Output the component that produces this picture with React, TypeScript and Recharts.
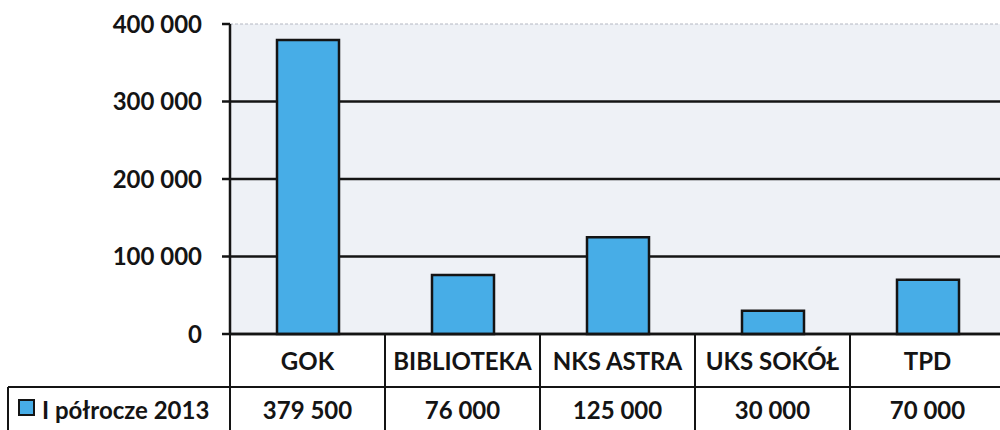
import { BarChart, Bar, XAxis, YAxis, CartesianGrid } from 'recharts'

const categories = ['GOK', 'BIBLIOTEKA', 'NKS ASTRA', 'UKS SOKÓŁ', 'TPD']
const values = [379500, 76000, 125000, 30000, 70000]
const yTicks = [0, 100000, 200000, 300000, 400000]
const seriesName = 'I półrocze 2013'

const data = categories.map((name, i) => ({ name, value: values[i] }))

// layout
const CHART_W = 1005
const CHART_H = 440
const Y_AXIS_W = 230
const TOP = 24
const PLOT_H = 310
const ROW1_H = 53
const ROW2_H = 56
const BAND = (CHART_W - Y_AXIS_W) / categories.length
const ROW1_TOP = TOP + PLOT_H
const ROW2_TOP = ROW1_TOP + ROW1_H
const ROW2_BOTTOM = ROW2_TOP + ROW2_H

const FONT = 'Lato, "Open Sans", sans-serif'
const FONT_SIZE = 24
const INK = '#141414'
const BLUE = '#47ade7'

const fmt = (v: number) => String(v).replace(/\B(?=(\d{3})+(?!\d))/g, ' ')

function CategoryTick(props: any) {
  const { x } = props
  return (
    <g>
      <line x1={x - BAND / 2} x2={x - BAND / 2} y1={ROW1_TOP} y2={ROW2_TOP} stroke={INK} strokeWidth={2} />
      <line x1={x + BAND / 2} x2={x + BAND / 2} y1={ROW1_TOP} y2={ROW2_TOP} stroke={INK} strokeWidth={2} />
      <line x1={x - BAND / 2} x2={x + BAND / 2} y1={ROW2_TOP} y2={ROW2_TOP} stroke={INK} strokeWidth={2} />
      <text
        x={x}
        y={ROW1_TOP + 26}
        textAnchor="middle"
        dominantBaseline="central"
        fill={INK}
        fontSize={FONT_SIZE}
        fontWeight={700}
        fontFamily={FONT}
      >
        {props.payload.value}
      </text>
    </g>
  )
}

function ValueTick(props: any) {
  const { x } = props
  const index = props.index ?? props.payload.index
  return (
    <g>
      <line x1={x - BAND / 2} x2={x - BAND / 2} y1={ROW2_TOP} y2={ROW2_BOTTOM} stroke={INK} strokeWidth={2} />
      <line x1={x + BAND / 2} x2={x + BAND / 2} y1={ROW2_TOP} y2={ROW2_BOTTOM} stroke={INK} strokeWidth={2} />
      {index === 0 && (
        <g>
          <line x1={8} x2={x - BAND / 2} y1={ROW2_TOP} y2={ROW2_TOP} stroke={INK} strokeWidth={2} />
          <line x1={8} x2={8} y1={ROW2_TOP} y2={ROW2_BOTTOM} stroke={INK} strokeWidth={2} />
          <rect x={19} y={400} width={15} height={15} fill={BLUE} stroke={INK} strokeWidth={2} />
          <text
            x={42}
            y={ROW2_TOP + 22}
            dominantBaseline="central"
            fill={INK}
            fontSize={FONT_SIZE}
            fontWeight={700}
            fontFamily={FONT}
          >
            {seriesName}
          </text>
        </g>
      )}
      <text
        x={x}
        y={ROW2_TOP + 22}
        textAnchor="middle"
        dominantBaseline="central"
        fill={INK}
        fontSize={FONT_SIZE}
        fontWeight={700}
        fontFamily={FONT}
      >
        {fmt(values[index])}
      </text>
    </g>
  )
}

// solid black grid lines, except the top border of the plot area which is a faint dashed line
function GridLine(props: any) {
  const { x1, x2, y1, y2 } = props
  const isTop = y1 <= TOP + 1
  return (
    <line
      x1={x1}
      x2={x2}
      y1={y1}
      y2={y2}
      stroke={isTop ? '#b4b8c2' : INK}
      strokeWidth={isTop ? 1 : 2.5}
      strokeDasharray={isTop ? '3 2' : undefined}
    />
  )
}

export default function App() {
  return (
    <div
      style={{
        position: 'fixed',
        left: 0,
        top: 0,
        width: 1000,
        height: 430,
        overflow: 'hidden',
        background: '#ffffff',
      }}
    >
      <BarChart
        width={CHART_W}
        height={CHART_H}
        data={data}
        margin={{ top: TOP, right: 0, bottom: CHART_H - ROW2_BOTTOM, left: 0 }}
        barCategoryGap={0}
      >
        <CartesianGrid fill="#eef1f6" vertical={false} horizontal={(p: any) => <GridLine {...p} />} />
        <XAxis
          dataKey="name"
          height={ROW1_H}
          tickLine={false}
          axisLine={{ stroke: INK, strokeWidth: 2.5 }}
          tick={<CategoryTick />}
          interval={0}
        />
        <XAxis
          xAxisId="vals"
          dataKey="name"
          height={ROW2_H}
          tickLine={false}
          axisLine={false}
          tick={<ValueTick />}
          interval={0}
        />
        <YAxis
          width={Y_AXIS_W}
          domain={[0, 400000]}
          ticks={yTicks}
          tickFormatter={fmt}
          tickSize={8}
          tickMargin={20}
          axisLine={{ stroke: INK, strokeWidth: 2.5 }}
          tickLine={{ stroke: INK, strokeWidth: 2.5 }}
          tick={{ fill: INK, fontSize: FONT_SIZE, fontWeight: 700, fontFamily: FONT }}
        />
        <Bar
          dataKey="value"
          name={seriesName}
          fill={BLUE}
          stroke={INK}
          strokeWidth={2.5}
          barSize={62}
          isAnimationActive={false}
        />
      </BarChart>
    </div>
  )
}
